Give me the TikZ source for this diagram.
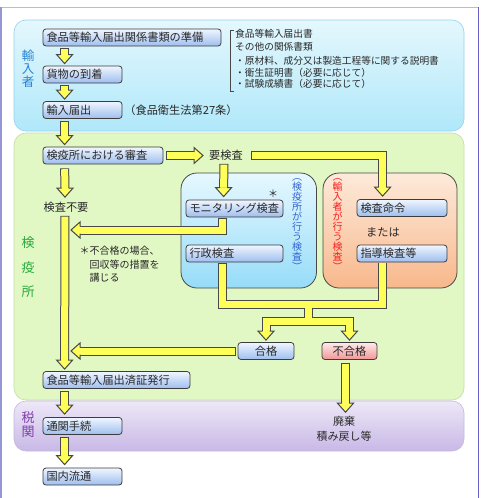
\documentclass[tikz,border=0pt]{standalone}
\usepackage{fontspec}
\setmainfont{Noto Sans CJK JP}
\usetikzlibrary{calc}
\definecolor{dk}{RGB}{72,72,72}
\definecolor{yl}{RGB}{255,255,90}
\definecolor{boxline}{RGB}{60,60,60}
\definecolor{boxtop}{RGB}{240,246,255}
\definecolor{boxbot}{RGB}{158,190,238}
\definecolor{pinktop}{RGB}{255,234,234}
\definecolor{pinkbot}{RGB}{240,150,150}
\definecolor{bAtop}{RGB}{228,247,253}
\definecolor{bAbot}{RGB}{176,232,250}
\definecolor{bAline}{RGB}{150,210,235}
\definecolor{bBfill}{RGB}{226,248,196}
\definecolor{bBline}{RGB}{195,222,165}
\definecolor{bCtop}{RGB}{238,232,248}
\definecolor{bCbot}{RGB}{200,184,230}
\definecolor{bCline}{RGB}{195,185,222}
\definecolor{rbtop}{RGB}{230,248,255}
\definecolor{rbbot}{RGB}{150,220,248}
\definecolor{rotop}{RGB}{253,234,218}
\definecolor{robot}{RGB}{248,184,140}
\definecolor{txt}{RGB}{40,40,40}
\definecolor{labblue}{RGB}{40,130,210}
\definecolor{labgreen}{RGB}{40,170,60}
\definecolor{labpurple}{RGB}{130,60,170}
\definecolor{vblue}{RGB}{50,100,210}
\definecolor{vred}{RGB}{250,30,30}
\definecolor{frameL}{RGB}{150,150,215}
\definecolor{frameT}{RGB}{185,185,230}
\definecolor{frameR}{RGB}{105,95,200}

\newcommand\hdown[1]{\path[headst] let \p1=(#1) in (\x1-3.5pt,\y1+9pt) -- (\x1-8pt,\y1+9pt) -- (\x1,\y1) -- (\x1+8pt,\y1+9pt) -- (\x1+3.5pt,\y1+9pt);}
\newcommand\hleft[1]{\path[headst] let \p1=(#1) in (\x1+9pt,\y1+3.5pt) -- (\x1+9pt,\y1+8pt) -- (\x1,\y1) -- (\x1+9pt,\y1-8pt) -- (\x1+9pt,\y1-3.5pt);}
\newcommand\hright[1]{\path[headst] let \p1=(#1) in (\x1-9pt,\y1+3.5pt) -- (\x1-9pt,\y1+8pt) -- (\x1,\y1) -- (\x1-9pt,\y1-8pt) -- (\x1-9pt,\y1-3.5pt);}

\newcommand\shafts[2]{%
 \draw[#1,#2] (a1s) -- ($(a1t)+(0,-9)$);
 \draw[#1,#2] (a2s) -- ($(a2t)+(0,-9)$);
 \draw[#1,#2] (a3s) -- ($(a3t)+(0,-9)$);
 \draw[#1,#2] (a4s) -- ($(a4t)+(-9,0)$);
 \draw[#1,#2] (a5s) -- ($(a5t)+(0,-9)$);
 \draw[#1,#2] (a6s) -- ($(a6t)+(0,-9)$);
 \draw[#1,#2] (a7s) -- ($(a7t)+(0,-9)$);
 \draw[#1,#2] (a8s) -- (a8s -| a8t) -- ($(a8t)+(0,-9)$);
 \draw[#1,#2] (a9s) -- (a9s |- a9t) -- ($(a9t)+(9,0)$);
 \draw[#1,#2] (a10a) -- (a10a |- jn) -- (a10b |- jn) -- (a10b);
 \draw[#1] (jn) -- (jn |- br);
 \draw[#1] ($(t10a)+(0,-9)$) -- (t10a |- br) -- (t10b |- br) -- ($(t10b)+(0,-9)$);
 \draw[#1,#2] (a11s) -- ($(a11t)+(9,0)$);
 \draw[#1,#2] (a12s) -- ($(a12t)+(0,-9)$);
 \draw[#1,#2] (a13s) -- ($(a13t)+(0,-9)$);
 \draw[#1,#2] (a14s) -- ($(a14t)+(0,-9)$);
}

\begin{document}
\begin{tikzpicture}[x=1pt,y=-1pt,
 box/.style={draw=boxline, line width=0.8pt, rounded corners=3pt, top color=boxtop, bottom color=boxbot,
   minimum height=17pt, inner xsep=3.5pt, inner ysep=0pt, text=txt, font=\fontsize{11.2}{13}\selectfont,
   align=left, text width=#1},
 cbox/.style={draw=boxline, line width=0.8pt, rounded corners=3pt, minimum height=17pt, inner sep=0pt,
   text=txt, font=\fontsize{11.2}{13}\selectfont},
 txtn/.style={inner sep=0pt, text=txt, font=\fontsize{11.2}{13}\selectfont},
 small/.style={inner sep=0pt, text=txt, font=\fontsize{9.7}{12}\selectfont, anchor=west},
 vlab/.style={inner sep=0pt, align=center},
 headst/.style={fill=yl, draw=dk, line width=1pt, line join=miter},
 dksh/.style={draw=dk, line width=9pt, line join=miter},
 ylsh/.style={draw=yl, line width=7pt, line join=miter},
]
\useasboundingbox (0,0) rectangle (480,498);
\fill[white] (0,0) rectangle (480,498);
% frame
\draw[frameT, line width=1pt] (1,7) -- (478.5,7);
\draw[frameL, line width=1.5pt] (1,7) -- (1,498);
\draw[frameR, line width=1.5pt] (478.5,7) -- (478.5,498);

% bands
\path[draw=bAline, line width=0.6pt, rounded corners=12pt, top color=bAtop, bottom color=bAbot] (14,20) rectangle (464,131);
\path[draw=bBline, line width=0.6pt, rounded corners=12pt, fill=bBfill] (14,133) rectangle (464,400);
\path[draw=bCline, line width=0.6pt, rounded corners=12pt, top color=bCtop, bottom color=bCbot] (14,401) rectangle (464,451);

% inspection regions
\path[draw=dk, line width=0.8pt, rounded corners=16pt, top color=rbtop, bottom color=rbbot] (181,173) rectangle (316.5,288);
\path[draw=dk, line width=0.8pt, rounded corners=16pt, top color=rotop, bottom color=robot] (323,173) rectangle (457,288);

% side labels
\node[vlab, text=labblue, font=\fontsize{12.5}{13}\selectfont] (labA) at (28,69) {輸\\入\\者};
\node[vlab, text=labgreen, font=\fontsize{13}{24.5}\selectfont] (labB) at (28,267.5) {検\\疫\\所};
\node[vlab, text=labpurple, font=\fontsize{13}{14}\selectfont] (labC) at (28,425) {税\\関};

% boxes
\node[box=171pt] (b1) at (132,37.5) {食品等輸入届出関係書類の準備};
\node[box=72pt] (b2) at (82.5,74.5) {貨物の到着};
\node[box=72pt] (b3) at (82.5,110) {輸入届出};
\node[box=113pt] (b4) at (103,155.5) {検疫所における審査};
\node[box=140pt] (b5) at (116.5,380) {食品等輸入届出済証発行};
\node[box=72pt] (b6) at (82.5,426) {通関手続};
\node[box=72pt] (b7) at (82.5,476.5) {国内流通};
\node[box=90pt] (mon) at (234.5,208.5) {モニタリング検査};
\node[box=90pt] (gyo) at (234.5,253.5) {行政検査};
\node[box=83pt] (mei) at (402,208) {検査命令};
\node[box=83pt] (shido) at (402,253.5) {指導検査等};
\node[cbox, top color=boxtop, bottom color=boxbot, minimum width=56pt] (gok) at (266,351) {合格};
\node[cbox, top color=pinktop, bottom color=pinkbot, minimum width=55pt] (fug) at (349.5,351) {不合格};

% texts
\node[txtn] (law) at (181,110) {（食品衛生法第27条）};
\draw[dk, line width=0.8pt] (233.5,30) -- (230.5,30) -- (230.5,91) -- (233.5,91);
\node[small] (d1) at (235,34) {食品等輸入届出書};
\node[small] (d2) at (235,47) {その他の関係書類};
\node[small] (d3) at (235,61) {・原材料、成分又は製造工程等に関する説明書};
\node[small] (d4) at (235,72.5) {・衛生証明書（必要に応じて）};
\node[small] (d5) at (235,84) {・試験成績書（必要に応じて）};
\node[txtn] (yk) at (226,155.5) {要検査};
\node[txtn] (fy) at (66,207.5) {検査不要};
\node[txtn, font=\fontsize{10}{12}\selectfont] (ast) at (273,194) {＊};
\node[txtn, anchor=north west, align=left, font=\fontsize{10}{13.5}\selectfont] (note) at (79.5,246) {＊不合格の場合、\\\phantom{＊}回収等の措置を\\\phantom{＊}講じる};
\node[txtn] (mata) at (383,232) {または};
\node[vlab, text=vblue, font=\fontsize{10}{10}\selectfont] (vt1) at (297,225) {︵\\検\\疫\\所\\が\\行\\う\\検\\査\\︶};
\node[vlab, text=vred, font=\fontsize{10}{10}\selectfont] (vt2) at (337.5,225) {︵\\輸\\入\\者\\が\\行\\う\\検\\査\\︶};
\node[txtn, align=center, font=\fontsize{11}{15}\selectfont] (haiki) at (344,429) {廃棄\\積み戻し等};

% connector points
\coordinate (a1s) at ($(b1.south west)+(22,2)$);
\coordinate (a1t) at ($(b2.north west)+(22,-2)$);
\coordinate (a2s) at ($(b2.south west)+(22,2)$);
\coordinate (a2t) at ($(b3.north west)+(22,-2)$);
\coordinate (a3s) at ($(b3.south west)+(22,2)$);
\coordinate (a3t) at ($(b4.north west)+(22,-2)$);
\coordinate (a4s) at ($(b4.east)+(3,0)$);
\coordinate (a4t) at ($(yk.west)+(-6,0)$);
\coordinate (a5s) at ($(b4.south west)+(22,4)$);
\coordinate (a5t) at ($(fy.north)+(-1,-5)$);
\coordinate (a6s) at ($(fy.south)+(-1,3)$);
\coordinate (a6t) at ($(b5.north west)+(22,-2)$);
\coordinate (a7s) at ($(yk.south)+(-2,3)$);
\coordinate (a7t) at ($(mon.north west)+(38,-3)$);
\coordinate (a8s) at ($(yk.east)+(8,0)$);
\coordinate (a8t) at ($(mei.north west)+(26,-3)$);
\coordinate (a9s) at ($(mon.south west)+(37,1)$);
\coordinate (a9t) at (71,230);
\coordinate (a10a) at ($(gyo.south west)+(37,1)$);
\coordinate (a10b) at ($(shido.south west)+(26,1)$);
\coordinate (jn) at (308,304);
\coordinate (br) at (308,321);
\coordinate (t10a) at ($(gok.north)+(0,-2)$);
\coordinate (t10b) at ($(fug.north)+(0,-2)$);
\coordinate (a11s) at ($(gok.west)+(-2,0)$);
\coordinate (a11t) at (a11s -| a9t);
\coordinate (a12s) at ($(fug.south)+(-4,3)$);
\coordinate (a12t) at ($(a12s |- haiki.north)+(0,-4)$);
\coordinate (a13s) at ($(b5.south west)+(22,2)$);
\coordinate (a13t) at ($(b6.north west)+(22,-3)$);
\coordinate (a14s) at ($(b6.south west)+(22,2)$);
\coordinate (a14t) at ($(b7.north west)+(22,-3)$);

% block arrows
\shafts{dksh}{}
\shafts{ylsh}{shorten <=0.8pt}
\hdown{a1t}\hdown{a2t}\hdown{a3t}\hright{a4t}\hdown{a5t}\hdown{a6t}\hdown{a7t}\hdown{a8t}
\hleft{a9t}\hdown{t10a}\hdown{t10b}\hleft{a11t}\hdown{a12t}\hdown{a13t}\hdown{a14t}
\end{tikzpicture}
\end{document}
